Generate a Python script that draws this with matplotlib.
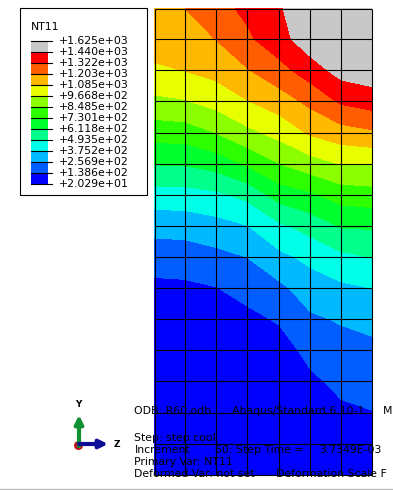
import numpy as np
import matplotlib
matplotlib.use("Agg")
import matplotlib.pyplot as plt
from matplotlib.patches import Rectangle

# mesh node positions (picture pixels)
node_x = [154.7, 185.3, 216.3, 247.3, 279.3, 310.3, 341.3, 372.0]
node_y = [8.7, 39.3, 70.3, 101.3, 133.3, 164.3, 195.3, 226.3, 257.3, 288.3, 319.3, 350.3, 381.3, 413.0, 444.0, 475.0]

# NT11 at the nodes, one list per row from the top
row_00 = [1195, 1203, 1275, 1350, 1420, 1580, 1600, 1620]
row_01 = [1140, 1150, 1205, 1300, 1395, 1510, 1555, 1590]
row_02 = [1067, 1087, 1125, 1195, 1280, 1382, 1485, 1510]
row_03 = [940, 960, 1010, 1080, 1145, 1232, 1340, 1377]
row_04 = [778, 787, 848, 935, 1003, 1098, 1150, 1180]
row_05 = [615, 620, 657, 745, 845, 912, 970, 970]
row_06 = [441, 445, 468, 524, 660, 708, 780, 798]
row_07 = [296, 303, 331, 370, 470, 538, 620, 625]
row_08 = [192, 197, 222, 257, 345, 405, 465, 495]
row_09 = [110, 115, 135, 177, 230, 314, 352, 375]
row_10 = [75, 78, 92, 110, 150, 238, 268, 295]
row_11 = [48, 50, 58, 68, 90, 170, 210, 225]
row_12 = [33, 33, 37, 42, 53, 118, 166, 175]
row_13 = [25, 25, 27, 29, 35, 72, 118, 135]
row_14 = [21, 21, 22, 23, 26, 42, 75, 95]
row_15 = [20.3, 20.3, 20.3, 20.5, 21, 28, 50, 65]

levels = [20.29, 138.6, 256.9, 375.2, 493.5, 611.8, 730.1, 848.5, 966.8, 1085, 1203, 1322, 1440, 1625]
level_labels = ["+2.029e+01", "+1.386e+02", "+2.569e+02", "+3.752e+02", "+4.935e+02", "+6.118e+02", "+7.301e+02",
                "+8.485e+02", "+9.668e+02", "+1.085e+03", "+1.203e+03", "+1.322e+03", "+1.440e+03", "+1.625e+03"]
band_colors = ["#0000ff", "#005dff", "#00b9ff", "#00ffe8", "#00ff8b", "#00ff2e", "#2eff00",
               "#8bff00", "#e8ff00", "#ffb900", "#ff5d00", "#ff0000", "#c8c8c8"]

# info text pieces: text, left edge, row
info_text = ["ODB: R60.odb", "Abaqus/Standard 6.10-1", "M",
             "Step: step cool",
             "Increment", "60: Step Time =", "3.7349E-03",
             "Primary Var: NT11",
             "Deformed Var: not set", "Deformation Scale F"]
info_x = [134.5, 232, 383, 134.5, 134.5, 215, 319, 134.5, 134.5, 276]
info_y = [411, 411, 411, 438, 450, 450, 450, 462, 474, 474]

field = np.array([row_00, row_01, row_02, row_03, row_04, row_05, row_06, row_07,
                  row_08, row_09, row_10, row_11, row_12, row_13, row_14, row_15])

fig = plt.figure(figsize=(3.93, 4.90), dpi=100)
ax = fig.add_axes([0, 0, 1, 1])
ax.set_xlim(0, 393)
ax.set_ylim(490, 0)
ax.axis("off")

# contour plot and mesh
ax.contourf(node_x, node_y, field, levels=levels, colors=band_colors)
ax.vlines(node_x, node_y[0], node_y[-1], color="black", linewidth=0.8)
ax.hlines(node_y, node_x[0], node_x[-1], color="black", linewidth=0.8)

# legend box
ax.add_patch(Rectangle((19.5, 8.5), 127.5, 186.5, fill=False, edgecolor="black", linewidth=0.8))
ax.text(30.5, 27.5, "NT11", fontsize=7.8, va="center", ha="left")
bar_top = 41.0
bar_step = 11.0
for i, col in enumerate(band_colors):
    y0 = bar_top + (12 - i) * bar_step
    ax.add_patch(Rectangle((30.5, y0), 17, bar_step, facecolor=col, edgecolor="none"))
for i, lab in enumerate(level_labels):
    y0 = bar_top + (13 - i) * bar_step
    ax.plot([30.5, 52], [y0, y0], color="black", linewidth=0.8)
    ax.text(58.5, y0, lab, fontsize=7.8, va="center", ha="left")

# triad
ax.plot([78], [445], marker="o", color="#c01818", markersize=6.5, markeredgecolor="none")
ax.annotate("", xy=(79, 415), xytext=(79, 446), arrowprops=dict(arrowstyle="-|>", color="#109030", lw=3.0, mutation_scale=12, shrinkA=0, shrinkB=0))
ax.annotate("", xy=(108, 444), xytext=(79, 444), arrowprops=dict(arrowstyle="-|>", color="#0c0c94", lw=3.0, mutation_scale=12, shrinkA=0, shrinkB=0))
ax.text(78, 404, "Y", fontsize=6.5, fontweight="bold", ha="center", va="center")
ax.text(117, 444, "Z", fontsize=6.5, fontweight="bold", ha="center", va="center")

# info text over the model
for line, x, y in zip(info_text, info_x, info_y):
    ax.text(x, y, line, fontsize=7.8, va="center", ha="left", color="black")

# window border at the bottom
ax.plot([0, 393], [489, 489], color="#c0c0c0", linewidth=1.0)

fig.savefig("out.png", dpi=100)
